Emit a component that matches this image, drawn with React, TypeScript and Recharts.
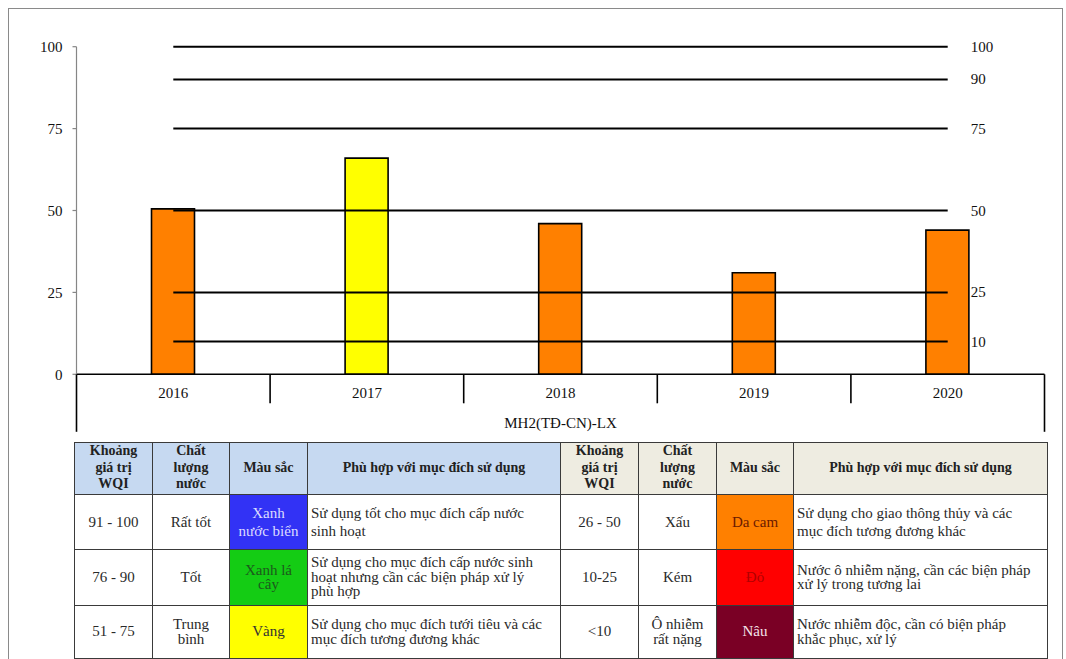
import React from 'react';
import { ComposedChart, Bar, Line, XAxis, YAxis, Cell } from 'recharts';

// ---- chart values ----
const YEARS = ['2016', '2017', '2018', '2019', '2020'];
const WQI = [50.5, 66, 46, 31, 44];
const BAR_COLORS = ['#ff8000', '#ffff00', '#ff8000', '#ff8000', '#ff8000'];
const THRESHOLDS = [100, 90, 75, 50, 25, 10];
const Y_TICKS = [0, 25, 50, 75, 100];
const GROUP_NAME = 'MH2(TĐ-CN)-LX';

// ---- WQI classification table ----
const TABLE_HEADERS = ['Khoảng\ngiá trị\nWQI', 'Chất\nlượng\nnước', 'Màu sắc', 'Phù hợp với mục đích sử dụng'];
const RANGES_LEFT = ['91 - 100', '76 - 90', '51 - 75'];
const QUALITY_LEFT = ['Rất tốt', 'Tốt', 'Trung\nbình'];
const COLOR_NAMES_LEFT = ['Xanh\nnước biển', 'Xanh lá\ncây', 'Vàng'];
const SWATCH_LEFT = ['#3232f5', '#14cc14', '#ffff00'];
const SWATCH_TEXT_LEFT = ['#dcdcff', '#1c5a1c', '#333333'];
const USAGE_LEFT = [
  'Sử dụng tốt cho mục đích cấp nước\nsinh hoạt',
  'Sử dụng cho mục đích cấp nước sinh\nhoạt nhưng cần các biện pháp xử lý\nphù hợp',
  'Sử dụng cho mục đích tưới tiêu và các\nmục đích tương đương khác',
];
const RANGES_RIGHT = ['26 - 50', '10-25', '<10'];
const QUALITY_RIGHT = ['Xấu', 'Kém', 'Ô nhiễm\nrất nặng'];
const COLOR_NAMES_RIGHT = ['Da cam', 'Đỏ', 'Nâu'];
const SWATCH_RIGHT = ['#ff8000', '#ff0000', '#7a0025'];
const SWATCH_TEXT_RIGHT = ['#6b1a00', '#b00000', '#f4e4ea'];
const USAGE_RIGHT = [
  'Sử dụng cho giao thông thủy và các\nmục đích tương đương khác',
  'Nước ô nhiễm nặng, cần các biện pháp\nxử lý trong tương lai',
  'Nước nhiễm độc, cần có biện pháp\nkhắc phục, xử lý',
];
const ROW_HEIGHTS = [55, 56, 53];
const ROW_LINE_HEIGHTS = [18, 14.5, 14.5];

const FONT = '"Liberation Serif", "Times New Roman", serif';

const chartData = YEARS.map((year, i) => {
  const row: Record<string, string | number> = { year, wqi: WQI[i] };
  THRESHOLDS.forEach((t) => {
    row['t' + t] = t;
  });
  return row;
});

// Threshold value written just after the end of each horizontal line
const EndLabel = (props: any) => {
  const { x, y, value, index } = props;
  if (index !== YEARS.length - 1) return null;
  return (
    <text x={x + 23} y={y} dominantBaseline="central" textAnchor="start" fontSize={15} fontFamily={FONT} fill="#111">
      {value}
    </text>
  );
};

// Year label plus category boundary ticks (outer edges run longer, framing the group label)
const YearTick = (props: any) => {
  const { x, y, payload, index, visibleTicksCount, width } = props;
  const half = payload && typeof payload.offset === 'number' && payload.offset > 0 ? payload.offset : width / visibleTicksCount / 2;
  const last = index === visibleTicksCount - 1;
  return (
    <g>
      <text x={x} y={y + 19} textAnchor="middle" dominantBaseline="central" fontSize={15} fontFamily={FONT} fill="#111">
        {payload.value}
      </text>
      {index === 0 && <line x1={x - half} x2={x - half} y1={y} y2={y + 57.5} stroke="#000" strokeWidth={1.6} />}
      <line x1={x + half} x2={x + half} y1={y} y2={y + (last ? 57.5 : 29)} stroke="#000" strokeWidth={1.6} />
    </g>
  );
};

const GroupLabel = (props: any) => {
  const vb = props.viewBox || {};
  return (
    <text x={vb.x + vb.width / 2} y={vb.y + 48.5} textAnchor="middle" dominantBaseline="central" fontSize={15} fontFamily={FONT} fill="#111">
      {GROUP_NAME}
    </text>
  );
};

const cellBase: React.CSSProperties = {
  border: '1px solid #3a3a3a',
  padding: 0,
  textAlign: 'center',
  verticalAlign: 'middle',
  whiteSpace: 'pre-line',
  color: '#2a2a2a',
  fontSize: 15,
};

const headerCell = (bg: string): React.CSSProperties => ({
  ...cellBase,
  background: bg,
  fontWeight: 'bold',
  fontSize: 14,
  lineHeight: '16.5px',
  color: '#222',
});

export default function App() {
  const rows = [0, 1, 2];
  return (
    <div style={{ position: 'relative', width: 1066, height: 659, overflow: 'hidden', background: '#fff', fontFamily: FONT }}>
      <style>{'html,body{margin:0;padding:0;overflow:hidden;}'}</style>
      <div
        style={{
          position: 'absolute',
          left: 8,
          top: 8,
          width: 1055,
          height: 700,
          border: '1px solid #8a8a8a',
          boxSizing: 'border-box',
        }}
      />
      <div style={{ position: 'absolute', left: 0, top: 0 }}>
        <ComposedChart
          width={1066}
          height={440}
          data={chartData}
          margin={{ top: 46.7, right: 21.5, left: 16.5, bottom: 5.7 }}
          style={{ fontFamily: FONT }}
        >
          <XAxis
            dataKey="year"
            interval={0}
            tickSize={0}
            tickMargin={0}
            tickLine={false}
            axisLine={{ stroke: '#000', strokeWidth: 1.6 }}
            height={60}
            tick={<YearTick />}
            label={<GroupLabel />}
          />
          <YAxis
            domain={[0, 100]}
            ticks={Y_TICKS}
            interval={0}
            width={60}
            tickSize={4}
            tickMargin={10}
            axisLine={{ stroke: '#868686', strokeWidth: 1.2 }}
            tickLine={{ stroke: '#868686', strokeWidth: 1.2 }}
            tick={{ fill: '#111', fontSize: 15, fontFamily: FONT }}
          />
          <Bar dataKey="wqi" barSize={43} stroke="#000" strokeWidth={1.6} isAnimationActive={false}>
            {WQI.map((_, i) => (
              <Cell key={YEARS[i]} fill={BAR_COLORS[i]} />
            ))}
          </Bar>
          {THRESHOLDS.map((t) => (
            <Line
              key={t}
              dataKey={'t' + t}
              stroke="#000"
              strokeWidth={2}
              dot={false}
              activeDot={false}
              isAnimationActive={false}
              label={<EndLabel />}
            />
          ))}
        </ComposedChart>
      </div>
      <table
        style={{
          position: 'absolute',
          left: 74,
          top: 441.7,
          width: 973,
          borderCollapse: 'collapse',
          tableLayout: 'fixed',
          fontFamily: FONT,
        }}
      >
        <colgroup>
          <col style={{ width: 78 }} />
          <col style={{ width: 77 }} />
          <col style={{ width: 78 }} />
          <col style={{ width: 253 }} />
          <col style={{ width: 78 }} />
          <col style={{ width: 78 }} />
          <col style={{ width: 77 }} />
          <col style={{ width: 254 }} />
        </colgroup>
        <tbody>
          <tr style={{ height: 52 }}>
            {TABLE_HEADERS.map((h, i) => (
              <td key={'l' + i} style={headerCell('#c6d9f1')}>
                {h}
              </td>
            ))}
            {TABLE_HEADERS.map((h, i) => (
              <td key={'r' + i} style={headerCell('#eeece1')}>
                {h}
              </td>
            ))}
          </tr>
          {rows.map((r) => {
            const lh = ROW_LINE_HEIGHTS[r] + 'px';
            return (
              <tr key={r} style={{ height: ROW_HEIGHTS[r] }}>
                <td style={{ ...cellBase, lineHeight: lh }}>{RANGES_LEFT[r]}</td>
                <td style={{ ...cellBase, lineHeight: lh }}>{QUALITY_LEFT[r]}</td>
                <td style={{ ...cellBase, lineHeight: lh, background: SWATCH_LEFT[r], color: SWATCH_TEXT_LEFT[r] }}>
                  {COLOR_NAMES_LEFT[r]}
                </td>
                <td style={{ ...cellBase, lineHeight: lh, textAlign: 'left', padding: '0 3px' }}>{USAGE_LEFT[r]}</td>
                <td style={{ ...cellBase, lineHeight: lh }}>{RANGES_RIGHT[r]}</td>
                <td style={{ ...cellBase, lineHeight: lh }}>{QUALITY_RIGHT[r]}</td>
                <td style={{ ...cellBase, lineHeight: lh, background: SWATCH_RIGHT[r], color: SWATCH_TEXT_RIGHT[r] }}>
                  {COLOR_NAMES_RIGHT[r]}
                </td>
                <td style={{ ...cellBase, lineHeight: lh, textAlign: 'left', padding: '0 3px' }}>{USAGE_RIGHT[r]}</td>
              </tr>
            );
          })}
        </tbody>
      </table>
    </div>
  );
}
